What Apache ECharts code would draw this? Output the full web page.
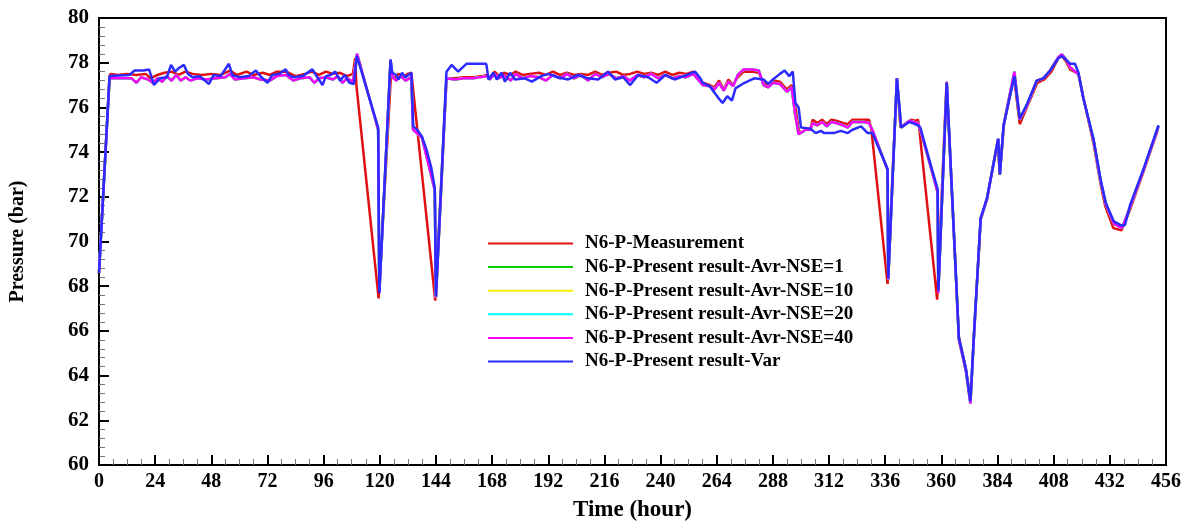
<!DOCTYPE html>
<html>
<head>
<meta charset="utf-8">
<script src="https://cdn.jsdelivr.net/npm/echarts@6/dist/echarts.min.js"></script>
<style>html,body{margin:0;padding:0;background:#fff}#chart{width:1189px;height:527px}</style>
</head>
<body>
<div id="chart"></div>
<script>
const xTicks = [0,24,48,72,96,120,144,168,192,216,240,264,288,312,336,360,384,408,432,456];
const yTicks = [60,62,64,66,68,70,72,74,76,78,80];
const seriesNames = ['N6-P-Measurement','N6-P-Present result-Avr-NSE=1','N6-P-Present result-Avr-NSE=10','N6-P-Present result-Avr-NSE=20','N6-P-Present result-Avr-NSE=40','N6-P-Present result-Var'];

const measTime = [0,4.5,5,8,12,16,20,22,25,28,31,34,37,40,44,48,52,56,59,63,66,70,73,76,80,84,88,91,94,97,100,103,106,108.5,109.5,110,119.5,124.8,126,128,130,132,133.5,143.7,148.5,152,156,160,164,165.8,167,169,171,173,176,178,181,184,188,191,194,197,200,203,206,209,212,215,218,221,224,227,230,233,236,239,242,245,248,251,254,256,258,261,263,265,267,269,271,273,275.5,279,282,284,286,288,291,294,296,297.5,299,300,302,304,305,307,309,311,313,315,318,320,322,325,327,329,330,337,341,342.5,345,347,349,350,350.5,358.2,362.2,367.5,370.5,372.5,374,376.8,379.5,384,385,386.7,391,393.5,396.5,401,404,407,410,411.5,413,415,418.5,421,425,428,430,433.5,437,440.5,446,452.5];
const measValue = [68.6,77.4,77.5,77.45,77.5,77.45,77.5,77.3,77.45,77.55,77.6,77.45,77.6,77.5,77.45,77.5,77.45,77.65,77.45,77.6,77.45,77.55,77.45,77.6,77.6,77.4,77.5,77.6,77.45,77.6,77.5,77.55,77.4,77.5,78.2,77.0,67.45,77.5,77.3,77.5,77.35,77.5,77.55,67.35,77.3,77.3,77.35,77.35,77.4,77.45,77.3,77.6,77.4,77.55,77.45,77.6,77.45,77.5,77.55,77.45,77.6,77.45,77.55,77.45,77.5,77.45,77.6,77.45,77.55,77.6,77.45,77.5,77.6,77.5,77.55,77.45,77.6,77.45,77.55,77.5,77.6,77.3,77.1,77.0,76.9,77.2,76.8,77.25,77.0,77.35,77.6,77.6,77.55,77.1,77.0,77.2,77.15,76.8,77.0,76.1,75.0,74.85,75.0,75.05,75.45,75.3,75.45,75.25,75.45,75.4,75.3,75.25,75.45,75.45,75.45,75.45,75.1,68.1,77.3,75.1,75.3,75.45,75.4,75.45,75.1,67.4,77.1,65.7,64.3,62.9,66.0,71.0,71.9,74.5,73.0,75.2,77.4,75.25,76.0,77.1,77.25,77.6,78.2,78.3,78.1,77.7,77.5,76.3,74.4,72.6,71.6,70.6,70.5,71.4,73.0,75.0];

const nseTime = [0,4.5,10,14,16,18,21,23,25,27,29,31,33,35,37,39,42,46,50,54,56,58,62,66,69,73,76,80,83,86,90,92,94,97,100,102,104,106,108.5,110.3,119.3,119.8,124.6,125.5,127,129,131,133.5,134.2,138,143.5,144,148.5,152,156,160,165.8,167,169,171,173,176,178,181,184,188,191,194,197,200,203,206,209,212,215,218,221,224,227,230,233,236,239,242,245,248,251,254,256,258,261,263,265,267,269,271,273,275.5,279,282,284,286,288,291,294,296,297.5,299,302,304,305,307,309,311,313,315,318,320,322,325,327,329,330.5,337,337.3,341,342.8,346.3,350,351,355,358.4,358.7,362.3,367.5,370.5,372.4,374,376.8,379.5,384.3,385,386.6,391.2,393.5,396.6,400.8,403.6,406.5,410,411.5,413.2,415,417.1,418.6,420.7,425,428,430.2,433.7,437.2,440.7,446.4,452.8];
const nse40Value = [68.6,77.3,77.3,77.3,77.1,77.35,77.25,77.1,77.3,77.15,77.4,77.2,77.45,77.2,77.35,77.2,77.3,77.25,77.3,77.35,77.5,77.25,77.3,77.35,77.25,77.2,77.4,77.45,77.2,77.3,77.35,77.1,77.3,77.35,77.25,77.4,77.1,77.3,77.15,78.4,75.0,67.7,78.1,77.35,77.2,77.4,77.2,77.35,75.0,74.65,72.3,67.5,77.3,77.25,77.3,77.3,77.4,77.25,77.5,77.3,77.45,77.2,77.5,77.3,77.4,77.35,77.2,77.45,77.3,77.5,77.3,77.45,77.2,77.5,77.35,77.5,77.3,77.4,77.2,77.45,77.35,77.5,77.3,77.45,77.3,77.4,77.35,77.5,77.25,77.0,76.95,76.8,77.1,76.75,77.15,76.95,77.45,77.7,77.7,77.65,77.0,76.9,77.1,77.05,76.7,76.9,75.7,74.8,75.0,75.0,75.3,75.2,75.35,75.15,75.35,75.3,75.2,75.1,75.35,75.35,75.35,75.3,75.0,73.2,68.3,77.3,75.1,75.4,75.3,75.0,73.5,72.2,67.7,77.15,65.6,64.2,62.75,65.9,71.0,71.9,74.6,73.0,75.2,77.6,75.45,76.1,77.2,77.3,77.65,78.25,78.38,78.15,77.8,77.6,77.5,76.4,74.55,72.75,71.7,70.8,70.6,71.55,73.2,75.15];
const nse1Value = nse40Value;
const nse10Value = nse40Value;
const nse20Value = nse40Value;

const varTime = [0,4.5,13,15.2,19,21.4,23.5,26,29,30.8,32.5,34,36.3,38,40,43,47,49,52,55.5,57,60,64,67,69,72,74,77,79.8,81,83,87,91.2,93,95.5,97,99,101,103,105,107,109,110.2,119.3,119.8,124.6,125.3,127,128,129.5,131,133.5,134.3,136,138,140,142,143.5,144,148.5,150.7,153.5,157,165.5,166.5,168.5,170,172,173.5,175.7,177.8,182,185,189,192,196,200.5,204.7,209,213.3,217.5,220.5,224,227,230.5,234.7,238.3,242,246,250,254.7,257,258,261,264.5,266.5,268.5,270.5,272,275,277,280,284,286,288,291,293,295,296.5,297.6,299,300,304,306.3,308.5,310,314,317,320,322,325.7,328.5,330.5,337,337.3,341,342.8,346.3,350,351,355,358.4,358.7,362.3,367.5,370.5,372.4,374,376.8,379.5,384.3,385,386.6,391.2,393.5,396.6,400.8,403.6,406.5,410,411.5,413.2,415,417.1,418.6,420.7,425,428,430.2,433.7,437.2,438.5,440.7,446.4,452.8];
const varValue = [68.6,77.4,77.45,77.65,77.65,77.7,77.0,77.3,77.35,77.9,77.6,77.75,77.9,77.5,77.35,77.4,77.05,77.45,77.4,77.95,77.45,77.35,77.4,77.65,77.4,77.1,77.45,77.5,77.7,77.45,77.35,77.4,77.7,77.4,77.0,77.4,77.45,77.6,77.2,77.45,77.1,77.05,78.3,75.1,67.7,78.15,77.55,77.45,77.25,77.55,77.35,77.55,75.15,75.0,74.7,74.1,73.3,72.4,67.55,77.6,77.9,77.6,77.95,77.95,77.25,77.55,77.25,77.55,77.15,77.55,77.25,77.3,77.15,77.4,77.5,77.35,77.25,77.45,77.3,77.25,77.6,77.25,77.35,77.0,77.45,77.35,77.1,77.45,77.25,77.4,77.6,77.3,77.1,76.95,76.45,76.2,76.5,76.3,76.85,77.05,77.15,77.3,77.25,77.05,77.25,77.5,77.65,77.4,77.6,76.2,76.0,75.1,75.05,74.85,74.95,74.85,74.85,74.95,74.85,75.0,75.15,74.85,74.85,73.25,68.35,77.3,75.1,75.35,75.2,75.1,73.6,72.35,67.8,77.1,65.7,64.3,62.85,66.0,71.05,71.95,74.6,73.0,75.2,77.4,75.5,76.15,77.2,77.3,77.65,78.2,78.3,78.15,77.95,77.95,77.55,76.4,74.6,72.8,71.75,70.9,70.7,70.75,71.65,73.25,75.2];

const colors = ['#e01010','#00d000','#f5f000','#00ffff','#ff00ff','#2b2bff'];
function pairs(t, v){ return t.map((x,i)=>[x, v[i]]); }
const seriesData = [
  pairs(measTime, measValue),
  pairs(nseTime, nse1Value),
  pairs(nseTime, nse10Value),
  pairs(nseTime, nse20Value),
  pairs(nseTime, nse40Value),
  pairs(varTime, varValue)
];

const font = 'Liberation Serif, Times New Roman, serif';
const chart = echarts.init(document.getElementById('chart'), null, {renderer:'canvas'});
chart.setOption({
  animation: false,
  backgroundColor: '#fff',
  grid: {left: 97, right: 23, top: 18, bottom: 45, show: true, borderColor: '#000', borderWidth: 2, backgroundColor: 'transparent'},
  legend: {
    orient: 'vertical', left: 482, top: 229,
    itemWidth: 85, itemHeight: 14, itemGap: 4.6,
    itemStyle: {opacity: 0},
    textStyle: {fontFamily: font, fontWeight: 'bold', fontSize: 19, color: '#000', padding: [0,0,0,7]},
    data: seriesNames
  },
  xAxis: {
    type: 'value', min: 0, max: 456, interval: 24,
    name: 'Time (hour)', nameLocation: 'middle', nameGap: 34,
    nameTextStyle: {fontFamily: font, fontWeight: 'bold', fontSize: 23, color: '#000'},
    axisLine: {lineStyle: {color: '#000', width: 2}},
    axisTick: {inside: true, length: 10, lineStyle: {color: '#000', width: 2}},
    minorTick: {show: true, splitNumber: 4, length: 6, lineStyle: {color: '#777', width: 1}},
    splitLine: {show: false},
    axisLabel: {fontFamily: font, fontWeight: 'bold', fontSize: 20, color: '#000', margin: 7,
      formatter: v => xTicks.includes(v) ? String(v) : ''}
  },
  yAxis: {
    type: 'value', min: 60, max: 80, interval: 2,
    name: 'Pressure (bar)', nameLocation: 'middle', nameGap: 71, nameRotate: 90,
    nameTextStyle: {fontFamily: font, fontWeight: 'bold', fontSize: 20, color: '#000'},
    axisLine: {show: true, lineStyle: {color: '#000', width: 2}},
    axisTick: {show: true, inside: true, length: 10, lineStyle: {color: '#000', width: 2}},
    minorTick: {show: true, splitNumber: 5, length: 6, lineStyle: {color: '#777', width: 1}},
    splitLine: {show: false},
    axisLabel: {fontFamily: font, fontWeight: 'bold', fontSize: 21, color: '#000', margin: 10,
      formatter: v => yTicks.includes(v) ? String(v) : ''}
  },
  series: seriesNames.map((n, i) => ({
    name: n, type: 'line', data: seriesData[i], symbol: 'none', showSymbol: false,
    color: colors[i], lineStyle: {color: colors[i], width: 2.5}, z: 2 + i
  }))
});
</script>
</body>
</html>
